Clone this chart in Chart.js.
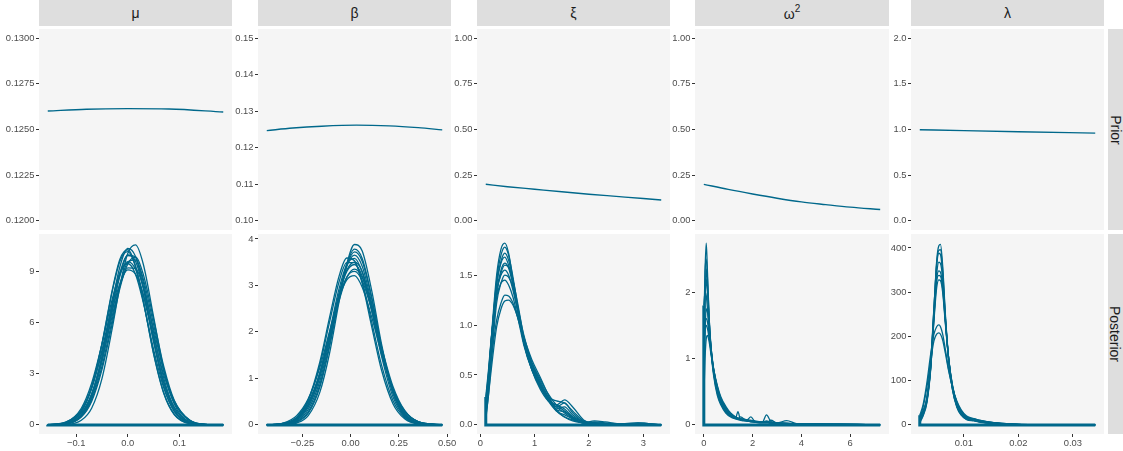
<!DOCTYPE html>
<html><head><meta charset="utf-8"><title>Prior and posterior densities</title>
<script src="https://cdn.jsdelivr.net/npm/chart.js@4.4.1/dist/chart.umd.min.js"></script>
<style>
html,body{margin:0;padding:0;background:#fff;}
body{width:1123px;height:451px;overflow:hidden;position:relative;font-family:"Liberation Sans",Arial,sans-serif;}
.strip{position:absolute;background:#DEDEDE;color:#1A1A1A;font-size:14px;display:flex;align-items:center;justify-content:center;}
.strip sup{font-size:10px;position:relative;top:-1px;}
.vt{transform:rotate(90deg);white-space:nowrap;}
canvas{position:absolute;}
</style></head><body>
<script>
// ---------------- DATA ----------------
const facetLabels = ['μ','β','ξ','ω','λ'];
const facetSup    = ['','','','2',''];
const rowLabels   = ['Prior','Posterior'];

// prior curves
const muPriorX  = [-0.155,-0.08,0,0.08,0.185];
const muPriorY  = [0.12601,0.12611,0.12614,0.12612,0.12596];
const betaPriorX = [-0.435,-0.3,-0.15,0.03,0.2,0.35,0.475];
const betaPriorY = [0.1247,0.1254,0.1259,0.1262,0.1260,0.1255,0.1249];
const xiPriorX  = [0.1,0.5,1.0,1.5,2.0,2.5,3.0,3.33];
const xiPriorY  = [0.200,0.187,0.173,0.159,0.146,0.134,0.122,0.114];
const om2PriorX = [0,1,2,3,4,5,6,7.23];
const om2PriorY = [0.200,0.172,0.147,0.124,0.104,0.089,0.075,0.062];
const lamPriorX = [0.0019,0.01,0.02,0.0341];
const lamPriorY = [0.998,0.988,0.976,0.960];

// posterior curves (one array per draw)
const muGrid = [-0.155,-0.12,-0.09,-0.07,-0.05,-0.03,-0.015,0,0.015,0.03,0.05,0.07,0.09,0.12,0.155,0.185];
const muPost = [
 [0,0.02,0.27,0.98,2.72,5.68,8.19,10.07,10.57,9.45,6.36,3.22,1.23,0.17,0.01,0],
 [0,0.06,0.55,1.70,4.01,7.18,9.32,10.37,9.90,8.12,4.91,2.26,0.79,0.10,0,0],
 [0,0.10,0.78,2.21,4.78,7.93,9.74,10.29,9.35,7.32,4.18,1.83,0.61,0.07,0,0],
 [0,0.06,0.53,1.59,3.70,6.67,8.77,9.99,9.84,8.40,5.43,2.72,1.05,0.16,0.01,0],
 [0,0.06,0.51,1.49,3.43,6.19,8.24,9.56,9.69,8.58,5.90,3.19,1.35,0.24,0.02,0],
 [0.01,0.13,0.83,2.14,4.39,7.14,8.83,9.59,9.14,7.65,4.93,2.52,1.02,0.17,0.01,0],
 [0.01,0.11,0.70,1.83,3.83,6.42,8.18,9.23,9.19,8.09,5.63,3.14,1.41,0.28,0.02,0],
 [0.01,0.16,0.89,2.17,4.25,6.75,8.32,9.11,8.86,7.66,5.24,2.91,1.31,0.27,0.02,0],
 [0,0.11,0.80,2.22,4.75,7.85,9.63,10.18,9.28,7.30,4.22,1.87,0.64,0.08,0,0],
 [0,0.05,0.46,1.38,3.25,5.95,8.05,9.45,9.85,8.85,6.20,3.40,1.45,0.26,0.02,0],
 [0,0.08,0.62,1.80,3.98,6.95,8.95,9.95,9.62,8.05,5.05,2.45,0.92,0.13,0.01,0],
 [0.01,0.16,0.98,2.45,4.75,7.40,8.95,9.48,8.85,7.20,4.45,2.15,0.82,0.12,0.01,0]
];
const betaGrid = [-0.435,-0.35,-0.28,-0.22,-0.16,-0.11,-0.06,-0.02,0.02,0.06,0.11,0.16,0.22,0.28,0.35,0.475];
const betaPost = [
 [0,0,0.04,0.20,0.70,1.53,2.65,3.46,3.88,3.74,2.87,1.74,0.70,0.20,0.03,0],
 [0,0.01,0.06,0.25,0.81,1.67,2.73,3.45,3.78,3.58,2.73,1.67,0.69,0.20,0.03,0],
 [0,0.01,0.08,0.33,0.94,1.80,2.79,3.41,3.65,3.41,2.60,1.61,0.68,0.22,0.04,0],
 [0,0.03,0.16,0.52,1.29,2.20,3.08,3.49,3.49,3.08,2.20,1.29,0.52,0.16,0.03,0],
 [0,0.02,0.13,0.44,1.10,1.92,2.80,3.30,3.45,3.20,2.46,1.57,0.72,0.25,0.05,0],
 [0,0.03,0.14,0.44,1.07,1.85,2.67,3.17,3.35,3.17,2.52,1.68,0.82,0.31,0.07,0],
 [0,0.04,0.20,0.56,1.23,2.00,2.74,3.12,3.21,2.96,2.31,1.53,0.74,0.29,0.07,0],
 [0,0.03,0.16,0.54,1.35,2.30,3.20,3.59,3.53,3.04,2.10,1.18,0.45,0.13,0.02,0],
 [0,0.01,0.07,0.28,0.86,1.72,2.74,3.42,3.72,3.52,2.70,1.68,0.71,0.21,0.03,0],
 [0,0.02,0.11,0.42,1.10,1.98,2.93,3.45,3.58,3.28,2.45,1.48,0.60,0.18,0.03,0],
 [0,0.02,0.10,0.38,1.02,1.88,2.83,3.33,3.50,3.30,2.55,1.62,0.74,0.25,0.05,0],
 [0,0.03,0.15,0.48,1.12,1.92,2.74,3.18,3.30,3.10,2.45,1.62,0.78,0.30,0.07,0]
];
const xiGrid = [0.1,0.15,0.2,0.3,0.38,0.45,0.52,0.6,0.7,0.8,0.95,1.1,1.25,1.4,1.55,1.7,1.9,2.1,2.3,2.6,2.9,3.33];
const xiPost = [
 [0.15,0.45,0.85,1.50,1.76,1.82,1.72,1.45,1.12,0.82,0.55,0.38,0.24,0.14,0.10,0.06,0.02,0.01,0.01,0.0,0.01,0],
 [0.10,0.40,0.80,1.45,1.70,1.78,1.70,1.48,1.15,0.84,0.55,0.36,0.24,0.20,0.16,0.08,0.02,0.02,0.01,0,0,0],
 [0.20,0.48,0.82,1.40,1.62,1.68,1.60,1.42,1.12,0.85,0.58,0.40,0.25,0.15,0.13,0.07,0.02,0.03,0.02,0.01,0.02,0],
 [0.12,0.38,0.70,1.30,1.52,1.60,1.58,1.45,1.18,0.88,0.60,0.42,0.27,0.18,0.22,0.12,0.03,0.01,0.0,0,0,0],
 [0.25,0.52,0.85,1.35,1.50,1.55,1.50,1.35,1.10,0.82,0.56,0.40,0.28,0.24,0.22,0.14,0.04,0.02,0.01,0.0,0,0],
 [0.08,0.30,0.62,1.22,1.42,1.50,1.48,1.38,1.15,0.90,0.62,0.44,0.28,0.14,0.08,0.05,0.02,0.04,0.03,0.01,0.02,0],
 [0.28,0.55,0.86,1.28,1.42,1.45,1.40,1.28,1.05,0.80,0.55,0.38,0.26,0.20,0.25,0.18,0.05,0.01,0,0,0,0],
 [0.18,0.40,0.65,1.05,1.22,1.30,1.29,1.22,1.05,0.85,0.62,0.46,0.31,0.20,0.14,0.08,0.03,0.02,0.01,0.01,0.0,0],
 [0.05,0.30,0.55,0.98,1.16,1.24,1.25,1.20,1.06,0.88,0.65,0.48,0.30,0.15,0.08,0.04,0.02,0.01,0.0,0,0,0],
 [0.22,0.50,0.84,1.42,1.64,1.72,1.65,1.45,1.12,0.83,0.56,0.39,0.26,0.18,0.12,0.06,0.02,0.02,0.01,0,0,0],
 [0.14,0.42,0.76,1.33,1.55,1.62,1.57,1.40,1.12,0.86,0.60,0.42,0.26,0.16,0.18,0.10,0.03,0.01,0.01,0,0.01,0]
];
const om2Grid = [0,0.05,0.1,0.15,0.22,0.3,0.4,0.55,0.7,0.9,1.1,1.3,1.4,1.5,1.75,1.93,2.1,2.4,2.57,2.75,3.0,3.4,3.8,4.5,5.5,7.23];
const om2Post = [
 [1.2,2.3,2.74,2.3,1.6,1.1,0.75,0.45,0.30,0.18,0.12,0.09,0.08,0.07,0.06,0.05,0.05,0.04,0.04,0.03,0.02,0.02,0.01,0.0,0.0,0],
 [1.5,2.3,2.5,2.2,1.6,1.15,0.80,0.50,0.33,0.20,0.13,0.10,0.20,0.08,0.06,0.05,0.04,0.03,0.03,0.03,0.02,0.03,0.01,0.0,0.0,0],
 [0.9,1.8,2.2,2.0,1.55,1.15,0.82,0.52,0.35,0.22,0.14,0.10,0.09,0.08,0.07,0.12,0.05,0.04,0.15,0.05,0.03,0.02,0.01,0.01,0.0,0],
 [1.8,2.0,1.95,1.75,1.45,1.1,0.80,0.52,0.36,0.22,0.14,0.10,0.09,0.08,0.06,0.05,0.04,0.03,0.03,0.07,0.03,0.065,0.02,0.01,0.01,0],
 [0.6,1.4,1.75,1.7,1.45,1.15,0.85,0.56,0.38,0.24,0.15,0.11,0.10,0.09,0.07,0.06,0.05,0.04,0.04,0.03,0.02,0.02,0.01,0.01,0.01,0],
 [1.0,1.4,1.5,1.45,1.3,1.1,0.85,0.58,0.40,0.26,0.16,0.12,0.10,0.09,0.08,0.07,0.06,0.04,0.05,0.04,0.03,0.02,0.01,0.02,0.01,0],
 [0.4,1.0,1.3,1.35,1.25,1.05,0.84,0.60,0.42,0.28,0.18,0.12,0.10,0.09,0.08,0.06,0.05,0.04,0.04,0.03,0.03,0.02,0.02,0.01,0.0,0],
 [0.8,1.9,2.35,2.1,1.55,1.12,0.78,0.48,0.32,0.20,0.13,0.10,0.09,0.12,0.06,0.05,0.05,0.04,0.06,0.03,0.02,0.02,0.01,0.01,0.0,0],
 [1.3,1.55,1.60,1.55,1.35,1.12,0.84,0.56,0.39,0.25,0.16,0.11,0.10,0.09,0.07,0.06,0.05,0.04,0.04,0.03,0.03,0.02,0.01,0.01,0.01,0]
];
const lamGrid = [0.0019,0.0025,0.0032,0.0039,0.0045,0.0050,0.0054,0.0057,0.0061,0.0066,0.0072,0.0079,0.0087,0.0095,0.0105,0.0118,0.013,0.0155,0.019,0.025,0.0341];
const lamPost = [
 [10,25,55,130,260,370,405,408,360,250,150,80,40,22,12,9,6,3,1,0,0],
 [18,30,60,140,265,360,388,385,340,240,145,80,42,24,13,10,7,3,1,0,0],
 [5,20,50,125,245,340,368,365,330,240,150,85,45,25,15,12,9,4,1,0,0],
 [20,32,62,140,250,330,348,345,315,235,150,88,48,28,16,12,8,4,1,0,0],
 [12,26,55,130,235,310,328,326,300,228,150,90,50,30,17,13,9,5,2,0,0],
 [22,45,95,160,205,222,226,222,205,170,125,85,52,32,18,14,10,5,2,0,0],
 [15,40,85,145,190,205,208,205,192,162,122,85,54,34,20,14,10,5,2,0,0],
 [14,28,58,135,262,365,395,396,350,245,148,82,42,23,13,10,7,3,1,0,0],
 [8,22,52,128,240,325,338,336,308,232,150,88,48,28,16,12,8,4,1,0,0]
];

// axis limits and tick labels
const xLimits = [[-0.172,0.202],[-0.4805,0.5205],[-0.0615,3.4915],[-0.3615,7.5915],[0.00029,0.03571]];
const xTicks  = [[-0.1,0,0.1],[-0.25,0,0.25,0.5],[0,1,2,3],[0,2,4,6],[0.01,0.02,0.03]];
const xTickLabels = [['−0.1','0.0','0.1'],['−0.25','0.00','0.25','0.50'],['0','1','2','3'],['0','2','4','6'],['0.01','0.02','0.03']];
const yLimitsPrior = [[0.1195,0.1305],[0.0975,0.1525],[-0.05,1.05],[-0.05,1.05],[-0.1,2.1]];
const yTicksPrior  = [[0.12,0.1225,0.125,0.1275,0.13],[0.10,0.11,0.12,0.13,0.14,0.15],[0,0.25,0.5,0.75,1],[0,0.25,0.5,0.75,1],[0,0.5,1,1.5,2]];
const yTickLabelsPrior = [['0.1200','0.1225','0.1250','0.1275','0.1300'],['0.10','0.11','0.12','0.13','0.14','0.15'],['0.00','0.25','0.50','0.75','1.00'],['0.00','0.25','0.50','0.75','1.00'],['0.0','0.5','1.0','1.5','2.0']];
const yLimitsPost = [[-0.534,11.214],[-0.196,4.106],[-0.091,1.911],[-0.137,2.877],[-20.55,431.55]];
const yTicksPost  = [[0,3,6,9],[0,1,2,3,4],[0,0.5,1,1.5],[0,1,2],[0,100,200,300,400]];
const yTickLabelsPost = [['0','3','6','9'],['0','1','2','3','4'],['0.0','0.5','1.0','1.5'],['0','1','2'],['0','100','200','300','400']];

// ---------------- LAYOUT / STYLE ----------------
const COLS = [[39,232],[258,451],[477,670],[695,889],[911,1104]];
const ROWS = [[29,230],[234,434]];
const YW = 38, PR = 16, PT = 8, XH = 18;
const LINE = '#00688B';
const FONT = '"Liberation Sans", Arial, sans-serif';
const TICKFONT = {family: FONT, size: 9.4};

const bgPlugin = {id:'panelbg', beforeDraw(c){const a=c.chartArea;const x=c.ctx;x.save();x.fillStyle='#F5F5F5';x.fillRect(a.left,a.top,a.right-a.left,a.bottom-a.top);x.restore();}};

function yAxis(lim, ticks, labels){
  return {type:'linear', min:lim[0], max:lim[1],
    afterFit(s){s.width=YW; s.paddingTop=0; s.paddingBottom=0;},
    afterBuildTicks(s){s.ticks = ticks.map(v=>({value:v}));},
    ticks:{callback:(v,i)=>labels[i], color:'#4D4D4D', font:TICKFONT, padding:1.5, autoSkip:false},
    grid:{drawOnChartArea:false, drawTicks:true, tickLength:3, tickColor:'#333333', tickWidth:1},
    border:{display:false}};
}
function xAxis(ci, show){
  const ticks = xTicks[ci], labels = xTickLabels[ci];
  return {type:'linear', min:xLimits[ci][0], max:xLimits[ci][1], display:show,
    afterFit(s){s.height = show ? XH : 0; s.paddingLeft=0; s.paddingRight=0;},
    afterBuildTicks(s){s.ticks = ticks.map(v=>({value:v}));},
    ticks:{callback:(v,i)=>labels[i], color:'#4D4D4D', font:TICKFONT, padding:1, autoSkip:false, maxRotation:0},
    grid:{drawOnChartArea:false, drawTicks:true, tickLength:3, tickColor:'#333333', tickWidth:1},
    border:{display:false}};
}
function lineSet(xs, ys, w){
  return {data: xs.map((x,i)=>({x, y: ys[i]})), borderColor: LINE, borderWidth: w, pointRadius: 0,
          cubicInterpolationMode: 'monotone', fill: false};
}
function baseSet(xs, yss){
  const h = Math.max(...yss.map(y=>y[0]));
  return {data:[{x:xs[0],y:h},{x:xs[0],y:0},{x:xs[xs.length-1],y:0}], borderColor: LINE, borderWidth: 3,
          pointRadius: 0, tension: 0, borderJoinStyle:'miter', fill:false};
}
function panel(ci, ri, datasets, yax){
  const [l,r] = COLS[ci], [t,b] = ROWS[ri];
  const xh = ri === 1 ? XH : 0;
  const w = (r-l) + YW + PR, h = (b-t) + PT + xh;
  const cv = document.createElement('canvas');
  cv.width = w; cv.height = h;
  cv.style.left = (l-YW)+'px'; cv.style.top = (t-PT)+'px';
  cv.style.width = w+'px'; cv.style.height = h+'px';
  document.body.appendChild(cv);
  new Chart(cv, {type:'line', data:{datasets},
    options:{responsive:false, animation:false, devicePixelRatio:1,
      layout:{padding:{top:PT, right:PR, left:0, bottom:0}},
      plugins:{legend:{display:false}, tooltip:{enabled:false}},
      scales:{x: xAxis(ci, ri===1), y: yax}},
    plugins:[bgPlugin]});
}

// strips
COLS.forEach(([l,r],i)=>{
  const d = document.createElement('div'); d.className='strip';
  d.style.cssText += `left:${l}px;top:0;width:${r-l}px;height:26px;`;
  const s = document.createElement('span'); s.textContent = facetLabels[i];
  if (facetSup[i]) { const sp=document.createElement('sup'); sp.textContent=facetSup[i]; s.appendChild(sp); }
  d.appendChild(s); document.body.appendChild(d);
});
ROWS.forEach(([t,b],i)=>{
  const d = document.createElement('div'); d.className='strip';
  d.style.cssText += `left:1108px;top:${t}px;width:15px;height:${b-t}px;`;
  const s = document.createElement('span'); s.className='vt'; s.textContent = rowLabels[i];
  d.appendChild(s); document.body.appendChild(d);
});

// prior row
const priorX = [muPriorX, betaPriorX, xiPriorX, om2PriorX, lamPriorX];
const priorY = [muPriorY, betaPriorY, xiPriorY, om2PriorY, lamPriorY];
for (let c=0;c<5;c++){
  panel(c, 0, [lineSet(priorX[c], priorY[c], 1.4)], yAxis(yLimitsPrior[c], yTicksPrior[c], yTickLabelsPrior[c]));
}
// posterior row
const postX = [muGrid, betaGrid, xiGrid, om2Grid, lamGrid];
const postY = [muPost, betaPost, xiPost, om2Post, lamPost];
for (let c=0;c<5;c++){
  const sets = [baseSet(postX[c], postY[c])].concat(postY[c].map(ys=>lineSet(postX[c], ys, 1.3)));
  panel(c, 1, sets, yAxis(yLimitsPost[c], yTicksPost[c], yTickLabelsPost[c]));
}
</script>
</body></html>
